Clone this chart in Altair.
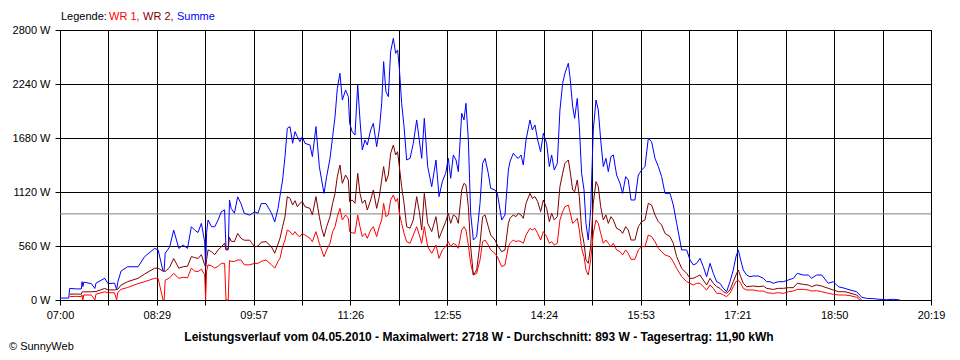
import altair as alt
import pandas as pd

# minutes after 07:00
T_MIN = [0, 8, 8.9, 15, 19.6, 20.2, 21, 21.8, 28.7, 32, 33, 41, 44, 50, 52, 53, 56, 62, 71.6, 77.7,
         86.8, 90, 94.5, 95.5, 96.5, 100.6, 104.3, 109, 113, 117, 120.5, 123.5, 126.6, 129.7, 132.7,
         133.6, 134.5, 135.8, 139, 142, 145, 148, 151, 152.3, 154.3, 155.5, 157, 160, 163, 166, 169,
         174, 178.6, 181.6, 184.6, 189, 194, 197, 200,
         201.8, 204.2, 206.4, 208.5, 211, 213.4, 215.6, 217.7, 220.1, 222.3, 224.7, 229.3, 231.5,
         234.8, 237.9, 240, 242.2, 244.6, 247.7, 250.1, 252.3, 254.4, 256.8, 259, 262, 264.5, 265.7,
         268, 270.6, 273.1, 275.2, 277.3, 279.8, 281.9, 285, 287.4, 290.5, 292.9, 295.1, 296.9, 299,
         301.2, 303.3, 305.8, 307.9, 309.7, 311.3, 313.4, 315.6, 318, 321.1, 324.1, 327.2, 329.6,
         331.8, 334.2, 337.3, 341, 344.9, 347.7, 350.7, 353.8, 356.2, 358.4, 360.8, 363.3, 365.4,
         368.5, 370.6, 372.4, 374.6, 376.7, 379.2, 382.2, 385.3, 387.7, 389.9, 392.9, 395.1, 399,
         401.2, 405.2, 408.2, 411.3, 412.8,
         415.8, 418.3, 420.4, 422.9, 425, 427.5, 431.1, 433.3, 435.7, 438.2, 440.9, 443.4, 446.4,
         448.9, 451, 453.4, 456.2, 458.6, 461.1, 463.2, 466.3, 467.8, 470.3, 472.1, 474.5, 476.4,
         478.5, 480.7, 482.5, 484.6, 486.8, 489.2, 491.7, 493.8, 496, 498.4, 500.8, 503, 505.4,
         507.6, 510.6, 513.7, 516.1, 518.9, 521.3, 523.8, 527.4, 530.5, 533.6, 536.6, 539.7, 542.7,
         545.8, 548.9, 551.9, 555, 559.6, 562.6, 565.7, 570.3, 574.9, 577.9, 581, 584, 587.1, 590.1,
         593.2, 596.3, 599.3, 602.4,
         605.4, 608.5, 611.5, 614.6, 617.6, 620.1, 622.2, 624.4, 626.8, 629.9, 632.9, 636, 640.6,
         645.2, 648.2, 651.3, 654.3, 658.9, 663.5, 668.1, 672.7, 676.3, 681.9, 686.4, 689.5, 694,
         698.7, 704.8, 709.4, 714, 720, 724.7, 730.8, 733.8, 735.4, 740, 746, 752.2, 758.3, 764.4,
         770.5]

SUMME = [20, 20, 120, 115, 115, 190, 140, 185, 170, 120, 175, 225, 170, 175, 110, 185, 300, 345, 345, 450,
         535, 520, 300, 300, 485, 550, 725, 535, 570, 535, 760, 725, 700, 795, 605,
         340, 700, 830, 760, 760, 830, 915, 935, 520, 520, 1037, 950, 900, 1070, 1000, 900,
         880, 915, 900, 1000, 1000, 900, 810, 950,
         1079, 1245, 1487, 1780, 1798, 1625, 1746, 1694, 1642, 1694, 1625, 1607, 1487,
         1798, 1383, 1245, 1106, 1279, 1469, 1694, 1901, 2195, 2351, 2074, 2178, 2109, 1832,
         1746, 1711, 2230, 1867, 1556, 1659, 1607, 1763, 1832, 1590, 1763, 2040, 2472, 2161,
         2109, 2575, 2714, 2558, 2593, 2403, 2040, 1798, 1452, 1469, 1625, 1867, 1659,
         1469, 1884, 1383, 1175, 1452, 1072, 1227, 1314, 1469, 1262, 1504, 1452, 1331,
         1936, 1867, 2040, 1659, 899, 622, 657, 1003, 1417, 1469, 1314, 1158, 1141,
         1106, 830, 882, 1348, 1435,
         1521, 1487, 1469, 1504, 1400, 1659, 1867, 1763, 1815, 1659, 1538, 1729, 1625,
         1383, 1504, 1348, 1417, 1970, 2247, 2351, 2455, 2316, 2005, 1884, 2091, 1798,
         1314, 1141, 795, 622, 934, 1763, 2074, 1970, 1659, 1383, 1469, 1331, 1487,
         1504, 1296, 1210, 1106, 1279, 1245, 1037, 1037, 1296, 1348, 1383, 1677, 1642,
         1469, 1383, 1279, 1106, 1106, 985, 795, 519, 519, 415, 363, 380, 432, 346,
         242, 380, 276, 190,
         173, 121, 86, 190, 311, 449, 519, 415, 311, 259, 242, 249, 249,
         225, 190, 190, 173, 190, 190, 207, 225, 276, 259, 259, 225, 259,
         259, 173, 190, 138, 121, 104, 86, 50, 28, 17, 14, 7, 3, 7,
         0]

WR2 = [None, None, 60, 62, 60, 85, 85, 85, 85, 88, 88, 120, 105, 105, 108, 110, 155, 190, 225, 270,
       330, 330, 300, 300, 295, 340, 430, 330, 345, 350, 450, 440, 430, 470, 365,
       340, 420, 520, 500, 470, 520, 550, 590, 520, 540, 650, 610, 605, 690, 640, 620,
       620, 550, 560, 600, 605, 550, 485, 580,
       640, 760, 864, 1072, 1054, 985, 1030, 968, 1003, 1020, 968, 950, 882,
       1072, 864, 743, 657, 760, 864, 1003, 1106, 1279, 1400, 1210, 1296, 1245, 1020,
       1037, 1003, 1314, 1106, 1003, 1037, 933, 1037, 1141, 950, 1072, 1245, 1383, 1227,
       1296, 1521, 1607, 1504, 1538, 1383, 1175, 1003, 760, 743, 830, 1072, 916,
       726, 1106, 795, 709, 864, 640, 726, 812, 899, 795, 882, 864, 795,
       1141, 1210, 1192, 968, 553, 259, 311, 588, 864, 882, 760, 674, 622,
       570, 501, 519, 795, 847,
       882, 864, 899, 882, 847, 1003, 1106, 1054, 1072, 1020, 916, 1037, 950,
       812, 899, 830, 864, 1175, 1314, 1417, 1452, 1348, 1141, 1123, 1245, 1072,
       726, 588, 415, 380, 553, 1003, 1227, 1175, 968, 830, 882, 795, 864,
       830, 743, 726, 691, 760, 726, 622, 622, 760, 812, 830, 1003, 985,
       882, 812, 778, 691, 657, 588, 449, 328, 276, 225, 225, 242, 259, 207,
       156, 225, 173, 138,
       121, 86, 69, 104, 190, 259, 311, 242, 173, 138, 142, 145, 138,
       145, 121, 115, 110, 121, 121, 128, 128, 173, 162, 156, 138, 156,
       145, 121, 104, 86, 86, 72, 52, 17, 0, None, None, None, None, None,
       None]

WR1 = [None, None, 35, 38, 35, 52, 0, 52, 52, 0, 60, 85, 75, 75, 0, 78, 110, 130, 170, 190,
       225, 225, 0, 0, 205, 230, 275, 225, 235, 230, 330, 300, 295, 320, 260,
       0, 300, 365, 355, 330, 350, 380, 380, 0, 0, 410, 400, 400, 415, 415, 365,
       365, 380, 380, 400, 415, 365, 330, 400,
       432, 553, 622, 726, 709, 674, 709, 674, 657, 691, 674, 640, 605,
       709, 588, 519, 449, 519, 588, 709, 760, 864, 950, 830, 882, 847, 709,
       698, 691, 882, 760, 657, 691, 640, 726, 760, 657, 760, 830, 1003, 864,
       882, 1037, 1089, 1020, 1054, 899, 795, 691, 605, 588, 674, 760, 674,
       588, 760, 553, 484, 570, 432, 519, 553, 605, 553, 588, 570, 536,
       726, 760, 726, 570, 380, 259, 276, 415, 605, 622, 570, 519, 484,
       449, 346, 363, 553, 588,
       622, 605, 615, 605, 588, 674, 743, 726, 743, 691, 622, 709, 657,
       588, 605, 570, 588, 830, 916, 968, 985, 916, 795, 812, 847, 726,
       536, 449, 311, 259, 415, 691, 830, 795, 691, 588, 622, 588, 553,
       588, 519, 501, 467, 519, 484, 422, 422, 519, 553, 553, 674, 657,
       605, 536, 501, 467, 449, 397, 328, 242, 190, 173, 156, 173, 173, 138,
       104, 156, 121, 69,
       69, 52, 35, 69, 138, 190, 207, 173, 121, 104, 104, 104, 93,
       93, 76, 72, 69, 76, 69, 86, 93, 110, 110, 104, 93, 97,
       86, 69, 59, 52, 52, 45, 28, 0, None, None, None, None, None, None,
       None]

X_LABELS = ["07:00", "08:29", "09:57", "11:26", "12:55", "14:24", "15:53", "17:21", "18:50", "20:19"]
Y_TICKS = [0, 560, 1120, 1680, 2240, 2800]
AVERAGE = [893]
SERIES = ["WR 1", "WR 2", "Summe"]
COLORS = ["#ff0000", "#800000", "#0000ff"]
TITLE = "Leistungsverlauf vom 04.05.2010 - Maximalwert: 2718 W - Durchschnitt: 893 W - Tagesertrag: 11,90 kWh"

SPAN = 799  # 07:00 .. 20:19 in minutes
FONT = "Liberation Sans"

rows = []
for t, s, w2, w1 in zip(T_MIN, SUMME, WR2, WR1):
    for name, v in (("WR 1", w1), ("WR 2", w2), ("Summe", s)):
        if v is not None:
            rows.append({"t": t, "W": v, "series": name})
df = pd.DataFrame(rows)

grid_vals = [i * SPAN / 18 for i in range(19)]
parts = [f"abs(datum.value - {i * SPAN / 9:.4f}) < 1 ? '{lab}'" for i, lab in enumerate(X_LABELS)]
x_label_expr = " : ".join(parts) + " : ''"

x_enc = alt.X("t:Q",
              scale=alt.Scale(domain=[0, SPAN], nice=False, zero=False),
              axis=alt.Axis(values=grid_vals, labelExpr=x_label_expr, title=None,
                            grid=True, gridColor="black", gridOpacity=1, gridWidth=1,
                            tickColor="black", tickSize=5, tickWidth=1,
                            domainColor="black", domainWidth=1,
                            labelFont=FONT, labelFontSize=11, labelColor="black",
                            labelPadding=4, labelOverlap=False, labelFlush=False))
y_enc = alt.Y("W:Q",
              scale=alt.Scale(domain=[0, 2800], nice=False),
              axis=alt.Axis(values=Y_TICKS, format="d", labelExpr="datum.label + ' W'", title=None,
                            grid=True, gridColor="black", gridOpacity=1, gridWidth=1,
                            tickColor="black", tickSize=5, tickWidth=1,
                            domainColor="black", domainWidth=1,
                            labelFont=FONT, labelFontSize=11, labelColor="black",
                            labelPadding=5))

avg = alt.Chart(pd.DataFrame({"avg": AVERAGE})).mark_rule(color="#808080", strokeWidth=1).encode(
    y=alt.Y("avg:Q", scale=alt.Scale(domain=[0, 2800], nice=False)))

lines = alt.Chart(df).mark_line(strokeWidth=1).encode(
    x=x_enc, y=y_enc,
    color=alt.Color("series:N", scale=alt.Scale(domain=SERIES, range=COLORS), legend=None),
    order=alt.Order("t:Q"))

one = pd.DataFrame({"a": [0]})

def txt(text, x, y, color="black", bold=False, size=11, align="left"):
    return alt.Chart(one).mark_text(align=align, baseline="middle", font=FONT, fontSize=size,
                                    fontWeight="bold" if bold else "normal", color=color).encode(
        x=alt.value(x), y=alt.value(y), text=alt.value(text))

legend_parts = [
    txt("Legende:", 1, -13),
    txt("WR 1,", 49, -13, COLORS[0]),
    txt("WR 2,", 83, -13, COLORS[1]),
    txt("Summe", 117, -13, COLORS[2]),
]
title = txt(TITLE, 419, 307, bold=True, size=12, align="center")
copy = txt("\u00a9 SunnyWeb", -51, 317)

chart = alt.layer(avg, lines, *legend_parts, title, copy).properties(
    width=871, height=270,
    padding={"left": 52, "top": 22, "right": 20, "bottom": 52},
    autosize=alt.AutoSizeParams(type="none"),
    background="white",
).configure_view(stroke="black", strokeWidth=1)

chart.save("out.html", embed_options={"renderer": "svg", "actions": False})
